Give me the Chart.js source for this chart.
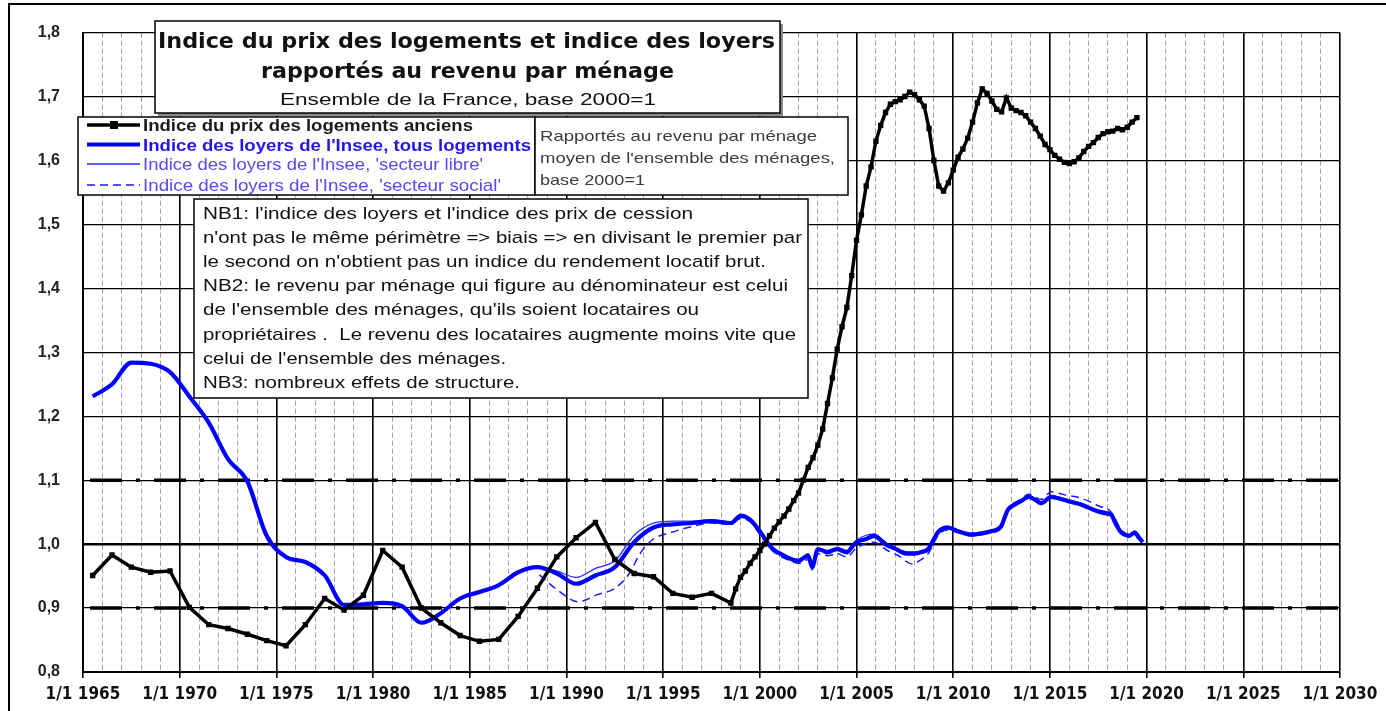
<!DOCTYPE html>
<html>
<head>
<meta charset="utf-8">
<script src="https://cdn.jsdelivr.net/npm/chart.js@4.4.1/dist/chart.umd.min.js"></script>
<style>
  html, body { margin: 0; padding: 0; background: #fff; }
  #wrap { width: 1386px; height: 711px; }
</style>
</head>
<body>
<div id="wrap"><canvas id="chart" width="1386" height="711"></canvas></div>
<script>
// --- data (decimal years, index base 2000 = 1) ---
const prixX = [1965.5, 1966.5, 1967.5, 1968.5, 1969.5, 1970.5, 1971.5, 1972.5, 1973.5, 1974.5,
  1975.5, 1976.5, 1977.5, 1978.5, 1979.5, 1980.5, 1981.5, 1982.5, 1983.5, 1984.5,
  1985.5, 1986.5, 1987.5, 1988.5, 1989.5, 1990.5, 1991.5, 1992.5, 1993.5, 1994.5,
  1995.5, 1996.5, 1997.5, 1998.5, 1998.75, 1999, 1999.25, 1999.5, 1999.75, 2000,
  2000.25, 2000.5, 2000.75, 2001, 2001.25, 2001.5, 2001.75, 2002, 2002.25, 2002.5,
  2002.75, 2003, 2003.25, 2003.5, 2003.75, 2004, 2004.25, 2004.5, 2004.75, 2005,
  2005.25, 2005.5, 2005.75, 2006, 2006.25, 2006.5, 2006.75, 2007, 2007.25, 2007.5,
  2007.75, 2008, 2008.25, 2008.5, 2008.75, 2009, 2009.25, 2009.5, 2009.75, 2010,
  2010.25, 2010.5, 2010.75, 2011, 2011.25, 2011.5, 2011.75, 2012, 2012.25, 2012.5,
  2012.75, 2013, 2013.25, 2013.5, 2013.75, 2014, 2014.25, 2014.5, 2014.75, 2015,
  2015.25, 2015.5, 2015.75, 2016, 2016.25, 2016.5, 2016.75, 2017, 2017.25, 2017.5,
  2017.75, 2018, 2018.25, 2018.5, 2018.75, 2019, 2019.25, 2019.5];
const prixY = [0.951, 0.983, 0.964, 0.956, 0.958, 0.901, 0.874, 0.868, 0.859, 0.849,
  0.841, 0.874, 0.915, 0.897, 0.92, 0.99, 0.964, 0.90, 0.877, 0.857,
  0.848, 0.851, 0.887, 0.931, 0.98, 1.01, 1.034, 0.976, 0.954, 0.949,
  0.923, 0.917, 0.923, 0.908, 0.93, 0.948, 0.958, 0.97, 0.98, 0.99,
  1.0, 1.013, 1.025, 1.035, 1.044, 1.055, 1.068, 1.08, 1.10, 1.12,
  1.135, 1.155, 1.18, 1.22, 1.26, 1.305, 1.34, 1.37, 1.42, 1.475,
  1.515, 1.56, 1.59, 1.63, 1.655, 1.675, 1.688, 1.692, 1.695, 1.70,
  1.707, 1.703, 1.695, 1.685, 1.65, 1.60, 1.56, 1.552, 1.565, 1.585,
  1.605, 1.618, 1.635, 1.66, 1.69, 1.712, 1.705, 1.693, 1.68, 1.676,
  1.698, 1.682, 1.678, 1.675, 1.67, 1.66, 1.65, 1.638, 1.625, 1.617,
  1.608, 1.602, 1.597, 1.595, 1.598, 1.604, 1.614, 1.622, 1.628, 1.636,
  1.642, 1.645, 1.646, 1.65, 1.648, 1.652, 1.66, 1.667];

const tousX = [1965.5, 1966.5, 1967.5, 1968.5, 1969.5, 1970.5, 1971.5, 1972.5, 1973.5, 1974.5,
  1975.5, 1976.5, 1977.5, 1978.5, 1979.5, 1980.5, 1981.5, 1982.5, 1983.5, 1984.5,
  1985.5, 1986.5, 1987.5, 1988.5, 1989.5, 1990.5, 1991.5, 1992.5, 1993.5, 1994.5,
  1995.5, 1996.5, 1997.5, 1998.5, 1999, 1999.5, 2000, 2000.5, 2000.75, 2001,
  2001.25, 2001.5, 2001.75, 2002, 2002.25, 2002.5, 2002.7, 2003, 2003.25, 2003.5,
  2003.75, 2004, 2004.5, 2004.75, 2005, 2005.5, 2005.9, 2006.3, 2006.6, 2007,
  2007.3, 2007.6, 2008, 2008.4, 2008.7, 2009, 2009.25, 2009.7, 2010.25, 2010.9,
  2011.5, 2011.96, 2012.48, 2012.7, 2012.83, 2013.2, 2013.5, 2013.9, 2014.2, 2014.55,
  2015.07, 2015.4, 2015.76, 2016.2, 2016.6, 2017, 2017.5, 2017.9, 2018.17, 2018.4,
  2018.7, 2019.1, 2019.38, 2019.6, 2019.8];
const tousY = [1.231, 1.25, 1.284, 1.282, 1.269, 1.231, 1.19, 1.133, 1.098, 1.013,
  0.98, 0.972, 0.951, 0.905, 0.906, 0.908, 0.903, 0.877, 0.892, 0.915,
  0.925, 0.936, 0.956, 0.964, 0.954, 0.938, 0.951, 0.964, 1.003, 1.026,
  1.031, 1.033, 1.036, 1.033, 1.044, 1.038, 1.02, 0.998, 0.99, 0.986,
  0.982, 0.978, 0.975, 0.974, 0.978, 0.982, 0.964, 0.992, 0.99, 0.987,
  0.99, 0.992, 0.987, 0.995, 1.003, 1.008, 1.013, 1.005, 0.998, 0.993,
  0.988, 0.985, 0.985, 0.988, 0.992, 1.008, 1.02, 1.026, 1.02, 1.015,
  1.017, 1.02, 1.028, 1.045, 1.054, 1.062, 1.067, 1.074, 1.07, 1.064,
  1.074, 1.072, 1.069, 1.065, 1.062, 1.057, 1.051, 1.048, 1.046, 1.032,
  1.018, 1.013, 1.018, 1.01, 1.003];

const libreX = [1988.5, 1989.5, 1990.5, 1991.5, 1992.5, 1993.5, 1994.5, 1995.5, 1996.5, 1997.5,
  1998.5, 1999, 1999.5, 2000, 2000.5, 2001, 2001.5, 2002, 2002.5, 2002.7,
  2003, 2003.5, 2004, 2004.5, 2005, 2005.9, 2006.6, 2007.3, 2008, 2008.7,
  2009.25, 2009.7, 2010.25, 2010.9, 2011.96, 2012.48, 2012.83, 2013.5, 2013.9, 2014.55,
  2015.07, 2015.76, 2016.6, 2017.5, 2018.17, 2018.7, 2019.1, 2019.38, 2019.8];
const libreY = [0.966, 0.958, 0.948, 0.962, 0.974, 1.014, 1.033, 1.036, 1.036, 1.038,
  1.035, 1.047, 1.041, 1.022, 1.0, 0.988, 0.98, 0.976, 0.985, 0.968,
  0.994, 0.99, 0.995, 0.99, 1.006, 1.016, 1.0, 0.99, 0.988, 0.995,
  1.022, 1.028, 1.022, 1.017, 1.022, 1.03, 1.056, 1.069, 1.076, 1.066,
  1.076, 1.071, 1.064, 1.053, 1.048, 1.02, 1.015, 1.02, 1.005];

const socialX = [1988.6, 1989.5, 1990.6, 1991.6, 1992.5, 1993.2, 1993.85, 1994.5, 1995.4, 1996.3,
  1997.5, 1998.5, 1999, 1999.5, 2000, 2000.5, 2001, 2001.5, 2002, 2002.5,
  2002.7, 2003, 2003.5, 2004, 2004.5, 2005, 2005.9, 2006.6, 2007.1, 2007.9,
  2008.3, 2008.7, 2009.25, 2009.7, 2010.25, 2010.9, 2011.96, 2012.48, 2012.83, 2013.5,
  2013.9, 2014.55, 2015.07, 2015.76, 2016.6, 2017.5, 2018.17, 2018.7, 2019.1, 2019.38,
  2019.8];
const socialY = [0.952, 0.929, 0.91, 0.921, 0.931, 0.952, 0.987, 1.008, 1.018, 1.026,
  1.033, 1.031, 1.04, 1.035, 1.015, 0.995, 0.982, 0.975, 0.97, 0.976,
  0.96, 0.985, 0.982, 0.985, 0.98, 0.994, 1.003, 0.99, 0.983, 0.969,
  0.975, 0.985, 1.015, 1.022, 1.018, 1.013, 1.018, 1.026, 1.055, 1.07,
  1.078, 1.07, 1.082, 1.077, 1.072, 1.06, 1.05, 1.022, 1.015, 1.02,
  1.005];

const xMin = 1965, xMax = 2030, xMajorStep = 5;
const yMin = 0.8, yMax = 1.8, yStep = 0.1;
const dashedRefValues = [0.9, 1.1];
const baseValue = 1.0;

const seriesLabels = [
  "Indice du prix des logements anciens",
  "Indice des loyers de l'Insee, tous logements",
  "Indice des loyers de l'Insee, 'secteur libre'",
  "Indice des loyers de l'Insee, 'secteur social'"
];
const titleLines = [
  "Indice du prix des logements et indice des loyers",
  "rapportés au revenu par ménage",
  "Ensemble de la France, base 2000=1"
];
const noteLines = [
  "Rapportés au revenu par ménage",
  "moyen de l'ensemble des ménages,",
  "base 2000=1"
];
const nbLines = [
  "NB1: l'indice des loyers et l'indice des prix de cession",
  "n'ont pas le même périmètre => biais => en divisant le premier par",
  "le second on n'obtient pas un indice du rendement locatif brut.",
  "NB2: le revenu par ménage qui figure au dénominateur est celui",
  "de l'ensemble des ménages, qu'ils soient locataires ou",
  "propriétaires .  Le revenu des locataires augmente moins vite que",
  "celui de l'ensemble des ménages.",
  "NB3: nombreux effets de structure."
];

const pts = (xs, ys) => xs.map((x, i) => ({ x: x, y: ys[i] }));
const NARROW = '"Liberation Sans Narrow", "DejaVu Sans Condensed", "Liberation Sans", sans-serif';
const SANS = '"Liberation Sans", Arial, sans-serif';
const isMajor = c => c.tick && Math.round(c.tick.value) % xMajorStep === 0;

// text squeezed/stretched to a target width
function fitText(ctx, txt, x, y, w, font, color) {
  ctx.save();
  ctx.font = font;
  const m = ctx.measureText(txt).width;
  ctx.translate(x, y);
  ctx.scale(w / m, 1);
  ctx.fillStyle = color;
  ctx.textAlign = 'left';
  ctx.textBaseline = 'alphabetic';
  ctx.fillText(txt, 0, 0);
  ctx.restore();
}

function box(ctx, x1, y1, x2, y2, shadow) {
  if (shadow) {
    ctx.fillStyle = '#8a8a8a';
    ctx.fillRect(x1 + 3, y1 + 3, x2 - x1, y2 - y1);
  }
  ctx.fillStyle = '#fff';
  ctx.fillRect(x1, y1, x2 - x1, y2 - y1);
  ctx.strokeStyle = '#000';
  ctx.lineWidth = 1.5;
  ctx.setLineDash([]);
  ctx.strokeRect(x1, y1, x2 - x1, y2 - y1);
}

const frame = {
  id: 'frame',
  beforeDraw(chart) {
    const ctx = chart.ctx;
    ctx.save();
    ctx.fillStyle = '#fff';
    ctx.fillRect(0, 0, chart.width, chart.height);
    ctx.strokeStyle = '#000';
    ctx.lineWidth = 2;
    ctx.beginPath();
    ctx.moveTo(9, 711);
    ctx.lineTo(9, 4);
    ctx.lineTo(chart.width, 4);
    ctx.stroke();
    ctx.restore();
  },
  beforeDatasetsDraw(chart) {
    const ctx = chart.ctx, a = chart.chartArea, ys = chart.scales.y;
    ctx.save();
    ctx.strokeStyle = '#000';
    ctx.lineWidth = 3.5;
    ctx.setLineDash([32, 14, 4, 14]);
    ctx.lineDashOffset = -7;
    dashedRefValues.forEach(v => {
      const y = ys.getPixelForValue(v);
      ctx.beginPath();
      ctx.moveTo(a.left, y);
      ctx.lineTo(a.right, y);
      ctx.stroke();
    });
    ctx.restore();
  },
  afterDraw(chart) {
    const ctx = chart.ctx;
    const ds = chart.data.datasets;
    ctx.save();

    // title box
    box(ctx, 155, 21, 780, 113, true);
    fitText(ctx, titleLines[0], 158, 48, 617, 'bold 22px ' + NARROW, '#111');
    fitText(ctx, titleLines[1], 261, 78, 413, 'bold 22px ' + NARROW, '#111');
    fitText(ctx, titleLines[2], 280, 105, 376, '16px ' + SANS, '#111');

    // legend box
    box(ctx, 78, 117, 535, 195, false);
    const rowY = [125, 144.5, 164, 185];
    const textEnd = [473, 531, 483, 501];
    const textFont = ['bold 17px ' + SANS, 'bold 17px ' + SANS, '17px ' + SANS, '17px ' + SANS];
    const textColor = ['#1a1a1a', '#2414ee', '#5a48f6', '#5a48f6'];
    ds.forEach((d, i) => {
      const y = rowY[i];
      ctx.strokeStyle = d.borderColor;
      ctx.lineWidth = d.borderWidth;
      ctx.setLineDash(d.borderDash || []);
      ctx.beginPath();
      ctx.moveTo(87, y);
      ctx.lineTo(140, y);
      ctx.stroke();
      ctx.setLineDash([]);
      if (d.pointRadius) {
        ctx.fillStyle = d.pointBackgroundColor;
        ctx.fillRect(114 - 4, y - 4, 8, 8);
      }
      fitText(ctx, seriesLabels[i], 143, y + 6, textEnd[i] - 143, textFont[i], textColor[i]);
    });

    // note box on the right of the legend
    box(ctx, 535, 117, 848, 195, false);
    const noteEnd = [817, 835, 645];
    noteLines.forEach((t, i) => {
      fitText(ctx, t, 540, 141 + i * 22, noteEnd[i] - 540, '15px ' + SANS, '#3b3b3b');
    });

    // NB box
    box(ctx, 194, 199, 808, 398, false);
    const nbEnd = [693, 802, 766, 788, 699, 796, 506, 520];
    nbLines.forEach((t, i) => {
      fitText(ctx, t, 203, 219 + i * 24.1, nbEnd[i] - 203, '17px ' + SANS, '#111');
    });

    ctx.restore();
  }
};

new Chart(document.getElementById('chart'), {
  type: 'line',
  data: {
    datasets: [
      {
        label: seriesLabels[0],
        data: pts(prixX, prixY),
        borderColor: '#000',
        borderWidth: 3.5,
        pointStyle: 'rect',
        pointRadius: 3.8,
        pointBackgroundColor: '#000',
        pointBorderWidth: 0,
        tension: 0
      },
      {
        label: seriesLabels[1],
        data: pts(tousX, tousY),
        borderColor: '#0000ff',
        borderWidth: 4.2,
        pointRadius: 0,
        cubicInterpolationMode: 'monotone'
      },
      {
        label: seriesLabels[2],
        data: pts(libreX, libreY),
        borderColor: '#2a2aff',
        borderWidth: 1.3,
        pointRadius: 0,
        cubicInterpolationMode: 'monotone'
      },
      {
        label: seriesLabels[3],
        data: pts(socialX, socialY),
        borderColor: '#1a1aff',
        borderWidth: 1.5,
        borderDash: [8, 5],
        pointRadius: 0,
        cubicInterpolationMode: 'monotone'
      }
    ]
  },
  options: {
    responsive: false,
    animation: false,
    layout: { padding: { left: 11, right: 46, top: 22, bottom: 0 } },
    plugins: { legend: { display: false }, tooltip: { enabled: false } },
    scales: {
      x: {
        type: 'linear',
        min: xMin,
        max: xMax,
        afterFit: s => { s.height = 39; },
        ticks: {
          stepSize: 1,
          maxTicksLimit: 100,
          autoSkip: false,
          maxRotation: 0,
          minRotation: 0,
          padding: 6,
          color: '#111',
          font: { family: NARROW, size: 17, weight: 'bold' },
          callback: v => (Math.round(v) % xMajorStep === 0 ? '1/1 ' + v : '')
        },
        grid: {
          color: c => (isMajor(c) ? '#000' : '#a0a0a0'),
          lineWidth: c => (isMajor(c) ? 1.6 : 1),
          tickLength: 6,
          tickColor: c => (isMajor(c) ? '#000' : 'rgba(0,0,0,0)')
        },
        border: {
          display: true,
          color: '#000',
          width: 2,
          dash: c => (c.tick && !isMajor(c) ? [5, 3] : [])
        }
      },
      y: {
        min: yMin,
        max: yMax,
        afterFit: s => { s.width = 72; },
        ticks: {
          stepSize: yStep,
          padding: 23,
          color: '#222',
          font: { family: SANS, size: 16, weight: 'bold' },
          callback: v => v.toFixed(1).replace('.', ',')
        },
        grid: {
          color: '#000',
          lineWidth: c => (c.tick && Math.abs(c.tick.value - baseValue) < 1e-6 ? 2.6 : 1.2),
          drawTicks: false
        },
        border: { display: true, color: '#000', width: 2 }
      }
    }
  },
  plugins: [frame]
});
</script>
</body>
</html>
